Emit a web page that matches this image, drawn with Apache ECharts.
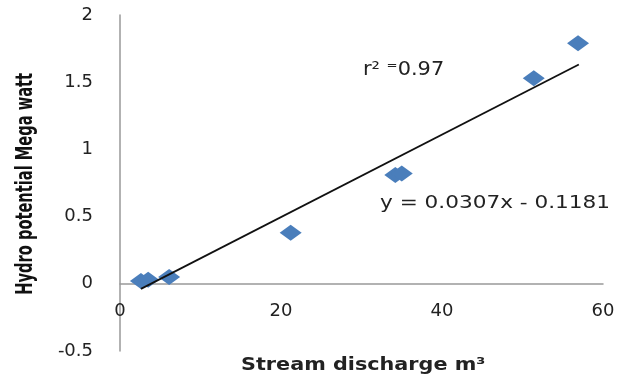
<!DOCTYPE html>
<html><head><meta charset="utf-8">
<script src="https://cdn.jsdelivr.net/npm/echarts@6/dist/echarts.min.js"></script>
<style>html,body{margin:0;padding:0;background:#fff}#c{width:627px;height:379px}</style>
</head><body><div id="c"></div>
<script>
// Data
const dischargeX = [2.6, 3.5, 6.1, 21.2, 34.2, 35.0, 51.4, 56.9];
const hydroPowerY = [0.02, 0.03, 0.05, 0.38, 0.81, 0.82, 1.53, 1.79];
const trendX = [2.6, 57.0];
const trendY = [-0.038, 1.632];
const xTicks = [0, 20, 40, 60];
const yTicks = [-0.5, 0, 0.5, 1, 1.5, 2];
const xTitle = 'Stream discharge m³';
const yTitle = 'Hydro potential Mega watt';
const eqText = 'y = 0.0307x - 0.1181';
const r2Text = 'r² ⁼0.97';

const chart = echarts.init(document.getElementById('c'), null, {renderer: 'canvas'});
const pts = dischargeX.map((x, i) => [x, hydroPowerY[i]]);
const trend = trendX.map((x, i) => [x, trendY[i]]);
const labelFont = {fontFamily: 'DejaVu Sans', fontSize: 18, color: '#222'};
const gridTop = 15, gridBottom = 28, plotH = 379 - gridTop - gridBottom;
const yMin = yTicks[0], yMax = yTicks[yTicks.length - 1];
// shift x axis (with its labels) up to y = 0
const zeroOffset = -plotH * (0 - yMin) / (yMax - yMin);
chart.setOption({
  animation: false,
  grid: {left: 120, right: 24, top: gridTop, bottom: gridBottom, outerBoundsMode: 'none', containLabel: false},
  xAxis: {
    type: 'value', min: xTicks[0], max: xTicks[xTicks.length - 1], interval: 20,
    offset: zeroOffset,
    axisLine: {show: true, onZero: false, lineStyle: {color: '#999', width: 1.5}},
    axisTick: {show: false}, splitLine: {show: false},
    axisLabel: Object.assign({margin: 19}, labelFont)
  },
  yAxis: {
    type: 'value', min: yMin, max: yMax, interval: 0.5,
    axisLine: {show: true, onZero: false, lineStyle: {color: '#999', width: 1.5}},
    axisTick: {show: false}, splitLine: {show: false},
    axisLabel: Object.assign({margin: 27}, labelFont)
  },
  series: [
    {type: 'scatter', data: pts, symbol: 'diamond', symbolSize: [22, 16],
     itemStyle: {color: '#4A7EBB', opacity: 1}, z: 2},
    {type: 'line', data: trend, symbol: 'none', lineStyle: {color: '#111', width: 1.8}, z: 3}
  ],
  graphic: [
    {type: 'text', left: 363, top: 61, scaleX: 1.1, style: {text: r2Text, font: '19px "DejaVu Sans"', fill: '#222'}},
    {type: 'text', left: 380, top: 194, scaleX: 1.2, style: {text: eqText, font: '18px "DejaVu Sans"', fill: '#222'}},
    {type: 'text', left: 241, top: 357, scaleX: 1.22, style: {text: xTitle, font: 'bold 17px "DejaVu Sans"', fill: '#222'}},
    {type: 'text', left: 15, top: 73, rotation: Math.PI / 2, scaleX: 0.65,
     style: {text: yTitle, font: 'bold 22.5px "DejaVu Sans"', fill: '#111'}}
  ]
});
</script></body></html>
